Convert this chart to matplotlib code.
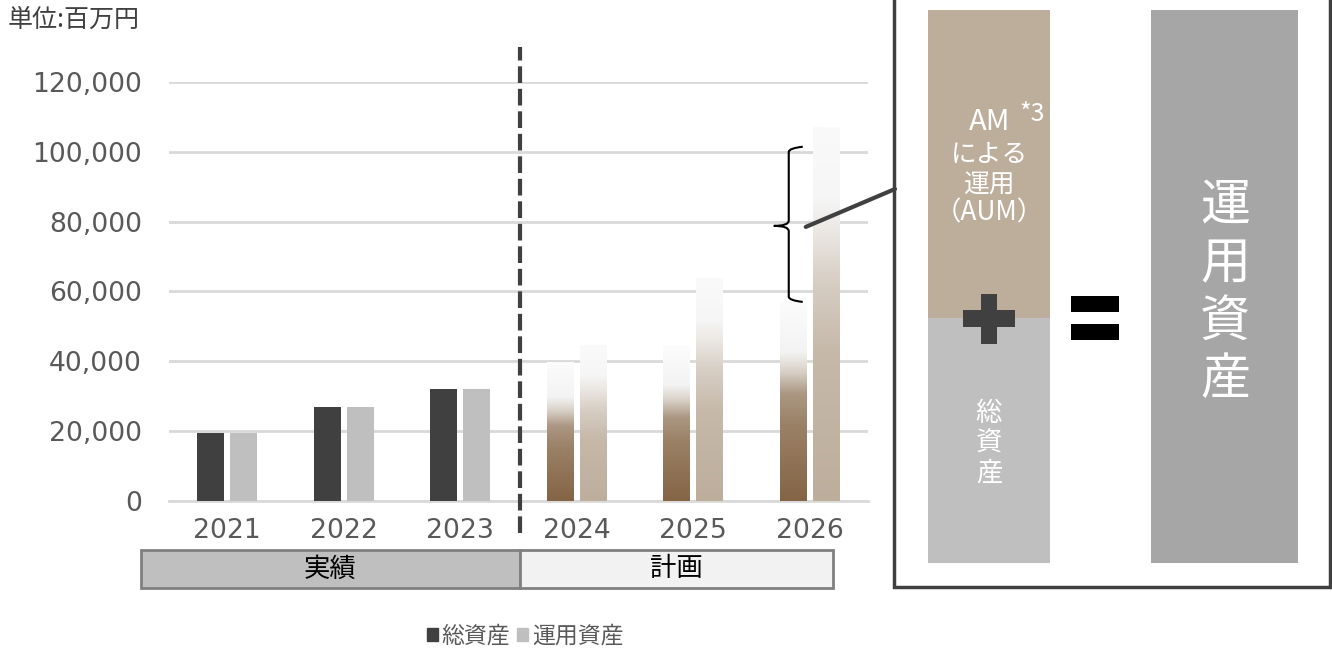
import matplotlib
matplotlib.use("Agg")
import matplotlib.pyplot as plt
import numpy as np
from matplotlib.patches import Rectangle, Patch
from matplotlib.path import Path
from matplotlib.patches import PathPatch, ConnectionPatch
from matplotlib.colors import LinearSegmentedColormap

plt.rcParams['font.family'] = ['Noto Sans CJK JP', 'DejaVu Sans']

# ---- data ----
years = ["2021", "2022", "2023", "2024", "2025", "2026"]
total_assets = [19300, 27000, 32000, 39800, 44200, 57000]      # 総資産
managed_assets = [19300, 27000, 32000, 44700, 63800, 107000]   # 運用資産
actual_count = 3  # 2021-2023 実績, rest 計画
yticks = [0, 20000, 40000, 60000, 80000, 100000, 120000]
series_labels = ["総資産", "運用資産"]
period_labels = ["実績", "計画"]
unit_label = "単位:百万円"

W, H = 1332, 652
fig = plt.figure(figsize=(W / 100, H / 100), dpi=100)
fx = lambda x: x / W
fy = lambda y: 1 - y / H

ax = fig.add_axes([fx(169), fy(500.7), 699 / W, 418.5 / H])

x = np.arange(len(years))
bw = 27 / 116.5
off = 16.5 / 116.5

dark_solid = "#404040"
light_solid = "#bfbfbf"
b1 = ax.bar(x - off, total_assets, bw, color=dark_solid, zorder=3)
b2 = ax.bar(x + off, managed_assets, bw, color=light_solid, zorder=3)

cm_dark = LinearSegmentedColormap.from_list("d", [
    (0.0, "#846445"), (0.38, "#9a8166"), (0.54, "#ab9782"),
    (0.65, "#d8d0c7"), (0.75, "#f3f3f3"), (1.0, "#fcfcfc")])
cm_light = LinearSegmentedColormap.from_list("l", [
    (0.0, "#bdae9c"), (0.4, "#c6b9aa"), (0.58, "#d6cdc3"),
    (0.72, "#ebe7e3"), (0.81, "#f6f6f6"), (1.0, "#fafafa")])
grad = np.linspace(0, 1, 256).reshape(-1, 1)
for bars, cm in ((b1, cm_dark), (b2, cm_light)):
    for i, p in enumerate(bars):
        if i >= actual_count:
            p.set_visible(False)
            x0, w, h = p.get_x(), p.get_width(), p.get_height()
            ax.imshow(grad, cmap=cm, origin="lower", aspect="auto",
                      extent=[x0, x0 + w, 0, h], zorder=3, interpolation="bilinear")

ax.set_xlim(-0.5, len(years) - 0.5)
ax.set_ylim(0, 120000)
ax.set_yticks(yticks)
ax.set_yticklabels([f"{v:,}" for v in yticks], family="DejaVu Sans")
ax.set_xticks(x)
ax.set_xticklabels(years, family="DejaVu Sans")
ax.tick_params(axis="y", length=0, pad=19.5, labelsize=19.2, labelcolor="#595959")
ax.tick_params(axis="x", length=0, pad=12.5, labelsize=19.2, labelcolor="#595959")
ax.grid(axis="y", color="#d9d9d9", linewidth=2, zorder=0)
ax.set_axisbelow(True)
for s in ["top", "right", "left"]:
    ax.spines[s].set_visible(False)
ax.spines["bottom"].set_color("#d9d9d9")
ax.spines["bottom"].set_linewidth(2)

# dashed separator
ax.plot([actual_count - 0.5 + 0.015] * 2, [-9300, 130000], color="#404040", lw=3,
        ls=(0, (4, 1.4)), clip_on=False, zorder=4)

# brace around 2026 AUM portion
bx = 5 - 21 / 116.5
hx = 5 - 7 / 116.5
tx = 5 - 36 / 116.5
y_lo, y_hi = total_assets[5], 101500
y_mid = 78800
r = 1500
verts = [(hx, y_hi), (bx, y_hi - r * 0.3), (bx, y_hi - r),
         (bx, y_mid + r), (bx, y_mid), (tx, y_mid),
         (bx, y_mid), (bx, y_mid - r),
         (bx, y_lo + r), (bx, y_lo + r * 0.3), (hx, y_lo)]
codes = [Path.MOVETO, Path.CURVE3, Path.CURVE3,
         Path.LINETO, Path.CURVE3, Path.CURVE3,
         Path.CURVE3, Path.CURVE3,
         Path.LINETO, Path.CURVE3, Path.CURVE3]
ax.add_patch(PathPatch(Path(verts, codes), fill=False, ec="black", lw=1.5,
                       clip_on=False, zorder=5))
con = ConnectionPatch(xyA=(5 - 4 / 116.5, 78500), coordsA=ax.transData,
                      xyB=(fx(895), fy(189)), coordsB=fig.transFigure,
                      color="#404040", lw=3, zorder=6)
fig.add_artist(con)

# unit label
fig.text(fx(8), fy(20), unit_label, fontsize=18, color="#404040",
         ha="left", va="center")

# period table
fig.add_artist(Rectangle((fx(141), fy(588)), (520 - 141) / W, 38 / H,
                         transform=fig.transFigure, fc="#bfbfbf", ec="#808080", lw=2))
fig.add_artist(Rectangle((fx(520), fy(588)), (833 - 520) / W, 38 / H,
                         transform=fig.transFigure, fc="#f2f2f2", ec="#808080", lw=2))
fig.text(fx(330), fy(569), period_labels[0], fontsize=19, color="black", ha="center", va="center")
fig.text(fx(676), fy(569), period_labels[1], fontsize=19, color="black", ha="center", va="center")

# legend
handles = [Patch(color=dark_solid), Patch(color=light_solid)]
leg = fig.legend(handles, series_labels, loc="center", bbox_to_anchor=(fx(525), fy(636)),
                 ncol=2, frameon=False, fontsize=16.5, handlelength=0.5, handleheight=0.5,
                 handletextpad=0.15, columnspacing=0.3, labelcolor="#595959")

# right explanatory panel
fig.add_artist(Rectangle((fx(894), fy(587)), (1330 - 894) / W, 600 / H,
                         transform=fig.transFigure, fc="white", ec="#404040", lw=2.5))
fig.add_artist(Rectangle((fx(928), fy(318)), 122 / W, 308 / H,
                         transform=fig.transFigure, fc="#bdae9c", ec="none"))
fig.add_artist(Rectangle((fx(928), fy(563)), 122 / W, 245 / H,
                         transform=fig.transFigure, fc="#bfbfbf", ec="none"))
fig.add_artist(Rectangle((fx(1151), fy(563)), 147 / W, 553 / H,
                         transform=fig.transFigure, fc="#a6a6a6", ec="none"))
# plus sign
fig.add_artist(Rectangle((fx(963), fy(327)), 52 / W, 17 / H,
                         transform=fig.transFigure, fc="#404040", ec="none"))
fig.add_artist(Rectangle((fx(981), fy(344)), 16 / W, 50 / H,
                         transform=fig.transFigure, fc="#404040", ec="none"))
# equals sign
fig.add_artist(Rectangle((fx(1071), fy(312)), 48 / W, 16 / H,
                         transform=fig.transFigure, fc="black", ec="none"))
fig.add_artist(Rectangle((fx(1071), fy(340)), 48 / W, 16 / H,
                         transform=fig.transFigure, fc="black", ec="none"))

fig.text(fx(990), fy(122), "AM", fontsize=21, color="white", ha="center", va="center")
fig.text(fx(1032), fy(114), "*3", fontsize=18, color="white", ha="center", va="center")
fig.text(fx(989), fy(155), "による", fontsize=18.5, color="white", ha="center", va="center")
fig.text(fx(989), fy(186), "運用", fontsize=18.5, color="white", ha="center", va="center")
fig.text(fx(989), fy(213), "（AUM）", fontsize=19, color="white", ha="center", va="center")
fig.text(fx(989), fy(443), "総\n資\n産", fontsize=19, color="white", ha="center",
         va="center", linespacing=1.12)
fig.text(fx(1225), fy(293), "運\n用\n資\n産", fontsize=36, color="white", ha="center",
         va="center", linespacing=1.15)

fig.savefig("out.png", dpi=100)
